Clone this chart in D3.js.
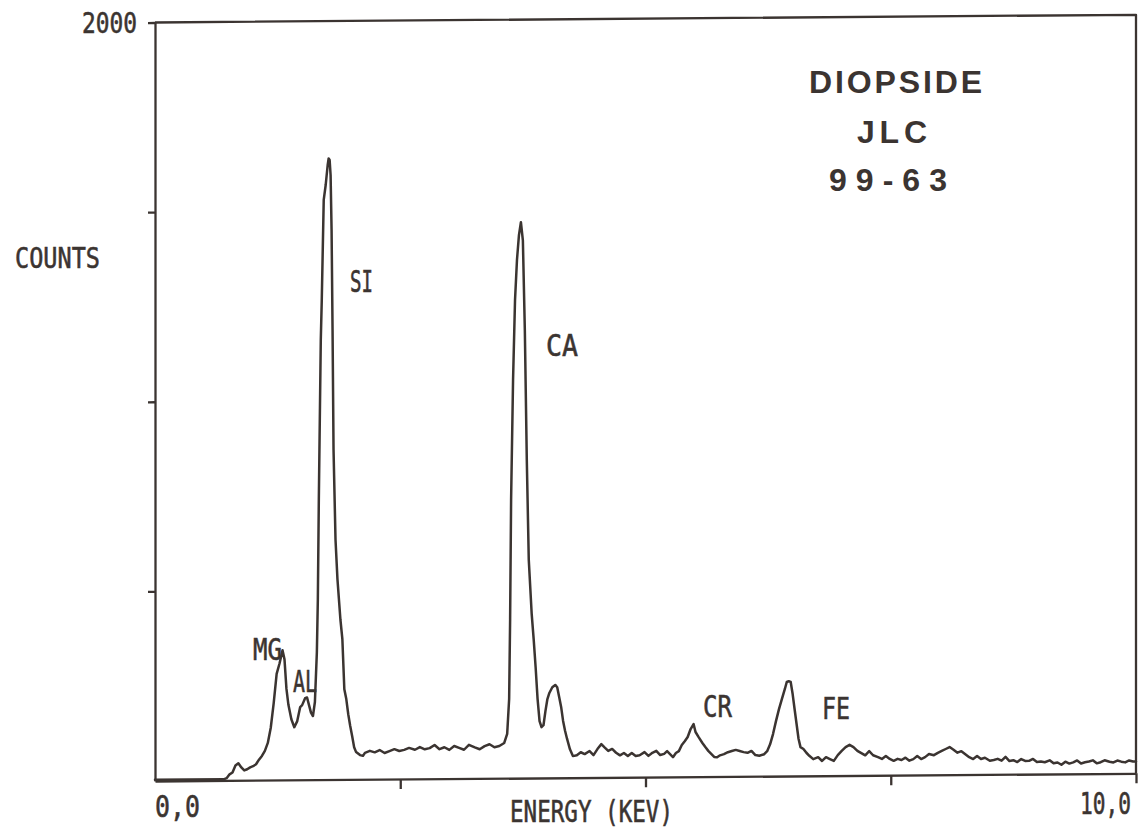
<!DOCTYPE html>
<html>
<head>
<meta charset="utf-8">
<script src="https://cdn.jsdelivr.net/npm/d3@7"></script>
<style>
  html, body { margin: 0; padding: 0; background: #ffffff; }
  svg { display: block; }
</style>
</head>
<body>
<svg id="chart" width="1142" height="835"></svg>
<script>
// ---------------- DATA ----------------
const energyKeV = [
  0.00,0.70,0.73,0.76,0.79,0.82,0.85,0.88,0.91,0.94,
  0.97,1.00,1.03,1.06,1.09,1.12,1.15,1.18,1.21,1.24,
  1.27,1.30,1.32,1.34,1.36,1.39,1.42,1.45,1.48,1.50,
  1.53,1.55,1.57,1.59,1.61,1.63,1.65,1.66,1.67,1.68,
  1.69,1.70,1.71,1.72,1.74,1.76,1.77,1.78,1.79,1.80,
  1.81,1.82,1.84,1.86,1.89,1.91,1.93,1.95,1.97,1.99,
  2.01,2.03,2.05,2.09,2.12,2.14,2.19,2.24,2.29,2.34,
  2.39,2.44,2.49,2.54,2.59,2.65,2.70,2.75,2.80,2.85,
  2.90,2.95,3.00,3.05,3.10,3.15,3.20,3.26,3.31,3.36,
  3.41,3.46,3.51,3.56,3.59,3.61,3.62,3.63,3.65,3.67,
  3.69,3.71,3.73,3.75,3.77,3.79,3.81,3.84,3.86,3.88,
  3.90,3.92,3.94,3.96,3.98,4.00,4.02,4.05,4.08,4.10,
  4.12,4.14,4.16,4.18,4.20,4.23,4.26,4.30,4.34,4.38,
  4.43,4.47,4.51,4.55,4.58,4.62,4.66,4.70,4.74,4.78,
  4.82,4.86,4.90,4.94,4.99,5.03,5.07,5.11,5.15,5.19,
  5.22,5.25,5.28,5.31,5.34,5.37,5.40,5.43,5.46,5.49,
  5.51,5.54,5.58,5.61,5.64,5.67,5.70,5.73,5.76,5.80,
  5.84,5.88,5.92,5.96,6.00,6.04,6.08,6.12,6.16,6.21,
  6.24,6.27,6.30,6.33,6.36,6.39,6.42,6.44,6.46,6.48,
  6.50,6.52,6.54,6.56,6.58,6.61,6.64,6.67,6.71,6.76,
  6.80,6.84,6.88,6.92,6.96,7.00,7.04,7.08,7.12,7.16,
  7.20,7.24,7.28,7.32,7.37,7.41,7.45,7.49,7.53,7.57,
  7.61,7.65,7.69,7.73,7.77,7.81,7.85,7.89,7.94,7.98,
  8.02,8.06,8.10,8.14,8.18,8.22,8.26,8.30,8.34,8.38,
  8.42,8.46,8.51,8.55,8.59,8.63,8.67,8.71,8.75,8.79,
  8.83,8.87,8.91,8.95,8.99,9.03,9.07,9.12,9.16,9.20,
  9.24,9.28,9.32,9.36,9.40,9.44,9.48,9.52,9.56,9.60,
  9.64,9.68,9.73,9.77,9.81,9.85,9.89,9.93,9.97,10.00
];
const counts = [
  3,3,6,16,21,39,45,34,26,29,
  34,37,42,54,64,77,98,138,203,280,
  308,342,318,240,198,160,139,155,192,197,
  215,217,197,177,168,205,336,476,739,950,
  1160,1265,1397,1529,1568,1620,1638,1634,1594,1450,
  1185,870,633,528,422,370,238,212,172,141,
  114,85,72,64,62,70,75,71,77,69,
  74,79,74,77,82,77,84,78,81,89,
  78,83,76,86,81,76,89,82,77,85,
  90,82,85,93,117,209,419,735,1051,1261,
  1367,1432,1466,1418,1181,839,576,432,366,292,
  208,150,134,139,176,208,224,239,245,239,
  213,187,150,124,103,75,57,59,67,62,
  70,59,75,88,80,70,75,65,58,64,
  56,64,56,58,66,56,64,69,58,61,
  68,60,52,63,68,84,94,105,126,139,
  118,105,89,78,68,60,52,51,56,59,
  64,67,70,67,64,62,67,56,54,58,
  66,84,111,145,176,203,229,248,250,248,
  216,176,137,98,76,71,61,53,44,49,
  39,49,44,39,54,65,75,81,75,65,
  59,53,64,53,48,43,51,43,38,43,
  40,46,38,42,50,42,47,55,52,58,
  63,68,73,66,58,62,54,46,41,49,
  41,44,36,38,41,36,46,35,37,32,
  40,35,35,40,32,33,31,36,28,30,
  24,32,27,30,35,27,30,32,35,27,
  30,35,31,29,34,31,29,34,31,31
];
const xTicks = [2.5, 5.0, 7.5, 10.0];
const yTicks = [500, 1000, 1500, 2000];
const xTickLabels = ["0,0", "10,0"];
const yTickLabels = ["2000"];
const peakNames = ["MG", "AL", "SI", "CA", "CR", "FE"];
const titleLines = ["DIOPSIDE", "JLC", "99-63"];
const xTitle = "ENERGY (KEV)";
const yTitle = "COUNTS";

// ---------------- CHART ----------------
const ink = "#3b3431";
const svg = d3.select("#chart");
const x = d3.scaleLinear().domain([0, 10]).range([155, 1136]);
const y = d3.scaleLinear().domain([0, 2000]).range([781, 22.5]);

const data = energyKeV.map((e, i) => ({ e: e, c: counts[i] }));

// plot group, slightly skewed like the scanned plotter output
const plot = svg.append("g")
  .attr("transform", `translate(${x(0)},${y(0)}) skewY(-0.45) translate(${-x(0)},${-y(0)})`);

// frame (top + right)
plot.append("path")
  .attr("d", `M${x(0)},${y(2000)} L${x(10)},${y(2000)} L${x(10)},${y(0)}`)
  .attr("fill", "none").attr("stroke", ink).attr("stroke-width", 2.3)
  .attr("stroke-linejoin", "round");

// axes
const xAxis = d3.axisBottom(x).tickValues(xTicks).tickSize(10).tickSizeOuter(0).tickFormat("");
const yAxis = d3.axisLeft(y).tickValues(yTicks).tickSize(7).tickSizeOuter(0).tickFormat("");
const gx = plot.append("g").attr("transform", `translate(0,${y(0)})`).call(xAxis);
const gy = plot.append("g").attr("transform", `translate(${x(0)},0)`).call(yAxis);
[gx, gy].forEach(g => {
  g.selectAll("path, line").attr("stroke", ink).attr("stroke-width", 2.3);
});

// spectrum
const line = d3.line().x(d => x(d.e)).y(d => y(d.c));
plot.append("path")
  .datum(data)
  .attr("d", line)
  .attr("fill", "none")
  .attr("stroke", ink)
  .attr("stroke-width", 2.5)
  .attr("stroke-linejoin", "round")
  .attr("stroke-linecap", "round");

// ---------------- TEXT ----------------
// plotter-style narrow lettering: natural glyphs squeezed horizontally to the target width
function plotText(txt, x0, base, w, fs) {
  const t = svg.append("text")
    .attr("x", 0).attr("y", 0)
    .attr("font-family", "'DejaVu Sans Mono', 'Liberation Mono', monospace")
    .attr("font-size", fs)
    .attr("fill", ink)
    .attr("stroke", ink)
    .attr("stroke-width", 0.6)
    .text(txt);
  const len = t.node().getComputedTextLength() || (txt.length * 0.602 * fs);
  t.attr("transform", `translate(${x0},${base}) scale(${w / len},1)`);
}
plotText(yTickLabels[0], 82, 33, 55, 29);
plotText(yTitle, 15, 268, 85, 29);
plotText(xTickLabels[0], 155, 817, 45, 30);
plotText(xTickLabels[1], 1080, 814, 51, 30);
plotText(xTitle, 510, 822, 163, 31);
// peak labels
const peakPos = [
  [253, 660, 29], [293, 692, 24], [350, 292, 23],
  [546, 356, 32], [703, 717, 29], [822, 719, 28]
];
peakNames.forEach((n, i) => plotText(n, peakPos[i][0], peakPos[i][1], peakPos[i][2], 31));

// title block
const titlePos = [[809, 93, 173], [857, 143, 70], [829, 191, 118]];
titleLines.forEach((t, i) => {
  svg.append("text")
    .attr("x", titlePos[i][0]).attr("y", titlePos[i][1])
    .attr("font-family", "'Liberation Sans', Arial, sans-serif")
    .attr("font-weight", "bold")
    .attr("font-size", 32)
    .attr("fill", ink)
    .attr("textLength", titlePos[i][2])
    .attr("lengthAdjust", "spacing")
    .text(t);
});
</script>
</body>
</html>
